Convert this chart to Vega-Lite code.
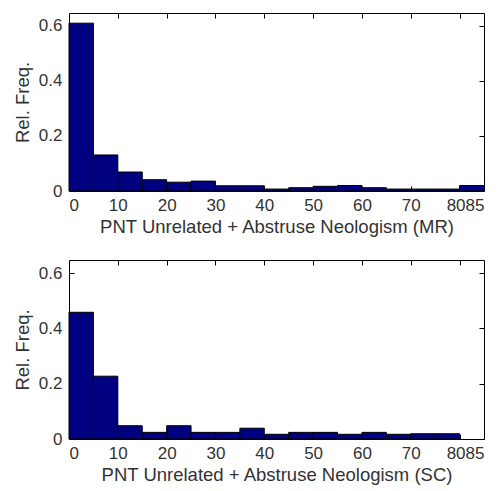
{
  "$schema": "https://vega.github.io/schema/vega-lite/v6.json",
  "padding": {"left": 12, "top": 12, "right": 5, "bottom": 5},
  "background": "white",
  "config": {
    "view": {"stroke": "black", "strokeWidth": 1},
    "font": "Liberation Sans",
    "axis": {
      "labelFont": "Liberation Sans",
      "titleFont": "Liberation Sans",
      "labelFontSize": 17,
      "titleFontSize": 18.5,
      "titleFontWeight": "normal",
      "labelColor": "#333",
      "titleColor": "#333",
      "domain": false,
      "grid": false,
      "tickColor": "black",
      "tickSize": -5,
      "labelOverlap": false
    }
  },
  "datasets": {
    "mr": [
      {"lo": 0, "hi": 5, "freq": 0.61},
      {"lo": 5, "hi": 10, "freq": 0.131},
      {"lo": 10, "hi": 15, "freq": 0.069},
      {"lo": 15, "hi": 20, "freq": 0.041},
      {"lo": 20, "hi": 25, "freq": 0.032},
      {"lo": 25, "hi": 30, "freq": 0.036},
      {"lo": 30, "hi": 35, "freq": 0.019},
      {"lo": 35, "hi": 40, "freq": 0.019},
      {"lo": 40, "hi": 45, "freq": 0.007},
      {"lo": 45, "hi": 50, "freq": 0.012},
      {"lo": 50, "hi": 55, "freq": 0.017},
      {"lo": 55, "hi": 60, "freq": 0.02},
      {"lo": 60, "hi": 65, "freq": 0.012},
      {"lo": 65, "hi": 70, "freq": 0.007},
      {"lo": 70, "hi": 75, "freq": 0.007},
      {"lo": 75, "hi": 80, "freq": 0.007},
      {"lo": 80, "hi": 85, "freq": 0.02}
    ],
    "sc": [
      {"lo": 0, "hi": 5, "freq": 0.458},
      {"lo": 5, "hi": 10, "freq": 0.227},
      {"lo": 10, "hi": 15, "freq": 0.048},
      {"lo": 15, "hi": 20, "freq": 0.024},
      {"lo": 20, "hi": 25, "freq": 0.048},
      {"lo": 25, "hi": 30, "freq": 0.024},
      {"lo": 30, "hi": 35, "freq": 0.024},
      {"lo": 35, "hi": 40, "freq": 0.039},
      {"lo": 40, "hi": 45, "freq": 0.017},
      {"lo": 45, "hi": 50, "freq": 0.024},
      {"lo": 50, "hi": 55, "freq": 0.024},
      {"lo": 55, "hi": 60, "freq": 0.017},
      {"lo": 60, "hi": 65, "freq": 0.024},
      {"lo": 65, "hi": 70, "freq": 0.017},
      {"lo": 70, "hi": 75, "freq": 0.019},
      {"lo": 75, "hi": 80, "freq": 0.019}
    ]
  },
  "vconcat": [
    {
      "width": 415,
      "height": 178,
      "data": {"name": "mr"},
      "resolve": {"axis": {"x": "independent", "y": "independent"}},
      "layer": [
        {
          "mark": {"type": "bar", "fill": "#000080", "stroke": "black", "strokeWidth": 1},
          "encoding": {
            "x": {"field": "lo", "type": "quantitative", "scale": {"domain": [0, 85], "nice": false, "zero": false},
              "axis": {"values": [0, 10, 20, 30, 40, 50, 60, 70, 80, 85], "format": "d", "title": "PNT Unrelated + Abstruse Neologism (MR)", "labelPadding": 11, "titlePadding": 4,
                "labelOffset": {"condition": {"test": "datum.value == 80", "value": -4}, "value": 0}}},
            "x2": {"field": "hi"},
            "y": {"field": "freq", "type": "quantitative", "scale": {"domain": [0, 0.647], "nice": false},
              "axis": {"values": [0, 0.2, 0.4, 0.6], "format": "~g", "title": "Rel. Freq.", "labelPadding": 12, "titlePadding": 6}},
            "y2": {"datum": 0}
          }
        },
        {
          "mark": {"type": "bar", "opacity": 0},
          "encoding": {
            "x": {"field": "lo", "type": "quantitative", "scale": {"domain": [0, 85], "nice": false, "zero": false},
              "axis": {"orient": "top", "values": [10, 20, 30, 40, 50, 60, 70, 80], "labels": false, "title": null}},
            "x2": {"field": "hi"},
            "y": {"field": "freq", "type": "quantitative",
              "axis": {"orient": "right", "values": [0.2, 0.4, 0.6], "labels": false, "title": null}},
            "y2": {"datum": 0}
          }
        }
      ]
    },
    {
      "width": 415,
      "height": 179,
      "data": {"name": "sc"},
      "resolve": {"axis": {"x": "independent", "y": "independent"}},
      "layer": [
        {
          "mark": {"type": "bar", "fill": "#000080", "stroke": "black", "strokeWidth": 1},
          "encoding": {
            "x": {"field": "lo", "type": "quantitative", "scale": {"domain": [0, 85], "nice": false, "zero": false},
              "axis": {"values": [0, 10, 20, 30, 40, 50, 60, 70, 80, 85], "format": "d", "title": "PNT Unrelated + Abstruse Neologism (SC)", "labelPadding": 11, "titlePadding": 4,
                "labelOffset": {"condition": {"test": "datum.value == 80", "value": -4}, "value": 0}}},
            "x2": {"field": "hi"},
            "y": {"field": "freq", "type": "quantitative", "scale": {"domain": [0, 0.647], "nice": false},
              "axis": {"values": [0, 0.2, 0.4, 0.6], "format": "~g", "title": "Rel. Freq.", "labelPadding": 12, "titlePadding": 6}},
            "y2": {"datum": 0}
          }
        },
        {
          "mark": {"type": "bar", "opacity": 0},
          "encoding": {
            "x": {"field": "lo", "type": "quantitative", "scale": {"domain": [0, 85], "nice": false, "zero": false},
              "axis": {"orient": "top", "values": [10, 20, 30, 40, 50, 60, 70, 80], "labels": false, "title": null}},
            "x2": {"field": "hi"},
            "y": {"field": "freq", "type": "quantitative",
              "axis": {"orient": "right", "values": [0.2, 0.4, 0.6], "labels": false, "title": null}},
            "y2": {"datum": 0}
          }
        }
      ]
    }
  ],
  "spacing": 69,
  "bounds": "flush"
}
